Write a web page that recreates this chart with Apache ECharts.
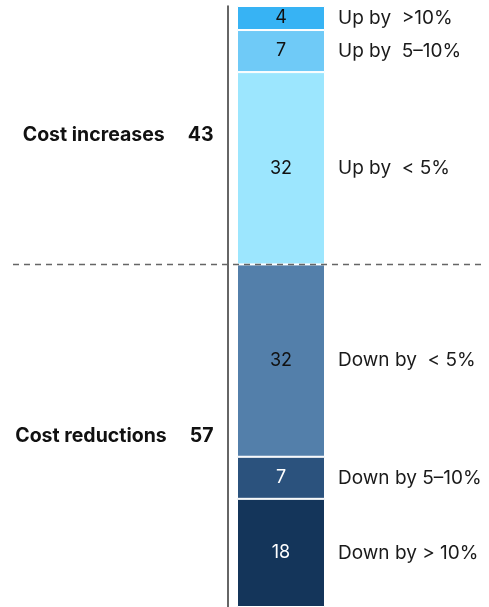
<!DOCTYPE html>
<html>
<head>
<meta charset="utf-8">
<script src="https://cdn.jsdelivr.net/npm/echarts@6/dist/echarts.min.js"></script>
<style>
  html, body { margin: 0; padding: 0; background: #fff; }
  #chart { width: 489px; height: 607px; }
</style>
</head>
<body>
<div id="chart"></div>
<script>
// segments from top to bottom
var segmentNames = ['Up by  >10%', 'Up by  5\u201310%', 'Up by  < 5%', 'Down by  < 5%', 'Down by 5\u201310%', 'Down by > 10%'];
var segmentValues = [4, 7, 32, 32, 7, 18];
var segmentColors = ['#37b3f4', '#6fcaf7', '#9ce6fe', '#537faa', '#2b527d', '#14355a'];
var segmentTextColors = ['#111', '#111', '#111', '#111', '#fff', '#fff'];
var groupNames = ['Cost increases', 'Cost reductions'];
var groupValues = [43, 57];

var font = 'Inter, "Liberation Sans", Arial, sans-serif';
var chart = echarts.init(document.getElementById('chart'));

function grid(left, width) {
  return { left: left, width: width, top: 6, bottom: -3 };
}
function xAx(i) {
  return { gridIndex: i, type: 'category', data: ['all'], show: false };
}
function yAx(i, extra) {
  return Object.assign({
    gridIndex: i, type: 'value', min: 0, max: 100, inverse: true,
    axisLabel: { show: false }, axisTick: { show: false },
    splitLine: { show: false }, axisLine: { show: false }
  }, extra || {});
}

var series = [];
// main colored bar
segmentValues.forEach(function (v, i) {
  series.push({
    type: 'bar', stack: 'main', xAxisIndex: 0, yAxisIndex: 0,
    barWidth: 88, silent: true,
    data: [v],
    itemStyle: { color: segmentColors[i], borderColor: '#fff', borderWidth: 1 },
    label: {
      show: true, position: 'inside', formatter: String(v),
      color: segmentTextColors[i], fontSize: 18, fontFamily: font
    }
  });
});
// descriptive labels on the right
segmentValues.forEach(function (v, i) {
  series.push({
    type: 'bar', stack: 'desc', xAxisIndex: 1, yAxisIndex: 1,
    barWidth: '100%', silent: true,
    data: [v],
    itemStyle: { color: 'transparent' },
    label: {
      show: true, position: 'insideLeft', distance: 13,
      formatter: segmentNames[i],
      color: '#1a1a1a', fontSize: 19, fontFamily: font
    }
  });
});
// group labels on the left
groupValues.forEach(function (v, i) {
  series.push({
    type: 'bar', stack: 'group', xAxisIndex: 2, yAxisIndex: 2,
    barWidth: '100%', silent: true,
    data: [v],
    itemStyle: { color: 'transparent' },
    label: {
      show: true, position: 'insideRight', distance: 14,
      formatter: '{n|' + groupNames[i] + '}{v|' + v + '}',
      rich: {
        n: { fontSize: 19.5, fontWeight: 'bold', fontFamily: font, color: '#111', padding: [0, 23, 0, 0] },
        v: { fontSize: 19.5, fontWeight: 'bold', fontFamily: font, color: '#111' }
      }
    }
  });
});
// dashed divider between increases and reductions
series.push({
  type: 'bar', xAxisIndex: 3, yAxisIndex: 3, data: [], silent: true,
  markLine: {
    silent: true, symbol: 'none', label: { show: false },
    lineStyle: { type: [6, 5], color: '#666', width: 1.3 },
    data: [{ yAxis: groupValues[0] }]
  }
});

chart.setOption({
  animation: false,
  grid: [grid(237, 88), grid(325, 164), grid(0, 227.5), grid(13, 471)],
  xAxis: [xAx(0), xAx(1), xAx(2), xAx(3)],
  yAxis: [
    yAx(0), yAx(1),
    yAx(2, { position: 'right', axisLine: { show: true, lineStyle: { color: '#333', width: 1.5 } } }),
    yAx(3)
  ],
  series: series
});
</script>
</body>
</html>
